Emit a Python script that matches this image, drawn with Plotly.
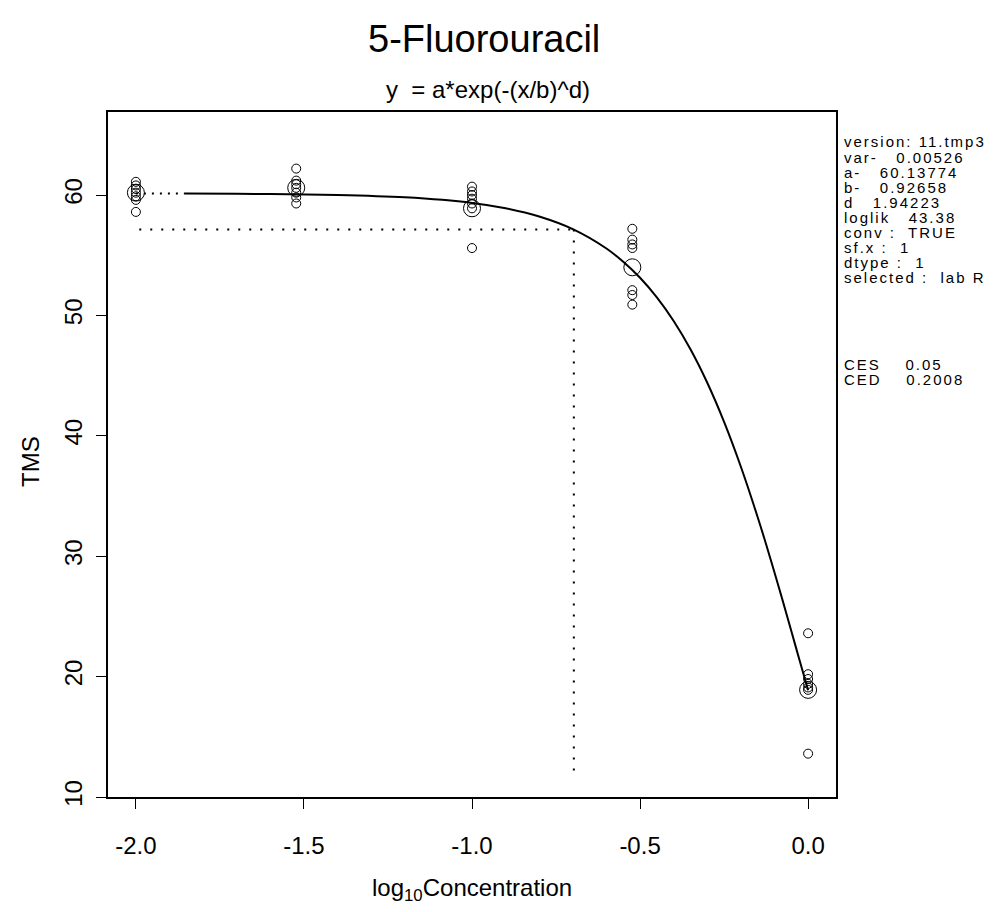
import plotly.graph_objects as go

# ---- data ----
log_conc = [-2.0, -1.523, -1.0, -0.523, 0.0]
tms_groups = [
    [61.1, 60.8, 60.5, 60.2, 59.9, 59.6, 58.6],
    [62.2, 61.2, 60.9, 60.6, 60.2, 59.8, 59.3],
    [60.7, 60.3, 60.0, 59.7, 59.3, 58.9, 55.6],
    [57.2, 56.3, 55.9, 55.6, 52.1, 51.7, 50.9],
    [23.6, 20.2, 19.8, 19.4, 19.1, 18.9, 13.6],
]
group_means = [60.2, 60.6, 58.9, 54.0, 18.9]

curve_x = [-1.854, -1.7, -1.6, -1.4, -1.2, -1.0, -0.9, -0.8, -0.7, -0.6, -0.55,
           -0.5, -0.45, -0.4, -0.35, -0.3, -0.25, -0.2, -0.15, -0.125, -0.1,
           -0.075, -0.05, -0.025, 0.0]
curve_y = [60.12, 60.10, 60.08, 60.01, 59.81, 59.35, 58.91, 58.22, 57.17, 55.56, 54.46,
           53.13, 51.50, 49.54, 47.19, 44.41, 41.16, 37.43, 33.24, 30.99, 28.65,
           26.25, 23.79, 21.32, 18.86]

lead_x = [-2.0, -1.854]
lead_y = [60.13, 60.12]

ces_level = 57.13
ced_log = -0.697
ced_line_bottom = 11.9
ces_line_start = -1.99

x_ticks = [-2.0, -1.5, -1.0, -0.5, 0.0]
x_ticktext = ["-2.0", "-1.5", "-1.0", "-0.5", "0.0"]
y_ticks = [10, 20, 30, 40, 50, 60]

info_lines = [
    "version: 11.tmp3",
    "var-   0.00526",
    "a-   60.13774",
    "b-   0.92658",
    "d   1.94223",
    "loglik   43.38",
    "conv :  TRUE",
    "sf.x :  1",
    "dtype :  1",
    "selected :  lab R",
]
ces_lines = ["CES    0.05", "CED    0.2008"]

# ---- layout geometry ----
W, H = 1005, 912
L, R, T, B = 108, 169, 112, 115
PW, PH = W - L - R, H - T - B
FONT = "Liberation Sans, Arial, sans-serif"


def px(x):
    return (x - L) / PW


def py(y):
    return (H - B - y) / PH


fig = go.Figure()

xs, ys = [], []
for xv, grp in zip(log_conc, tms_groups):
    for v in grp:
        xs.append(xv)
        ys.append(v)
fig.add_trace(go.Scatter(x=xs, y=ys, mode="markers",
                         marker=dict(symbol="circle-open", size=9, color="black",
                                     line=dict(width=1, color="black"))))
fig.add_trace(go.Scatter(x=log_conc, y=group_means, mode="markers",
                         marker=dict(symbol="circle-open", size=17, color="black",
                                     line=dict(width=1, color="black"))))
fig.add_trace(go.Scatter(x=curve_x, y=curve_y, mode="lines",
                         line=dict(color="black", width=2, shape="spline", smoothing=0.8)))
fig.add_trace(go.Scatter(x=lead_x, y=lead_y, mode="lines",
                         line=dict(color="black", width=2, dash="2px,6px")))
fig.add_trace(go.Scatter(x=[ces_line_start, ced_log], y=[ces_level, ces_level], mode="lines",
                         line=dict(color="black", width=2, dash="2px,9px")))
fig.add_trace(go.Scatter(x=[ced_log, ced_log], y=[ces_level, ced_line_bottom], mode="lines",
                         line=dict(color="black", width=2, dash="2px,9px")))

ann = []
ann.append(dict(text="5-Fluorouracil", x=px(484), y=py(39), xref="paper", yref="paper",
                showarrow=False, xanchor="center", yanchor="middle",
                font=dict(size=38, family=FONT, color="black")))
ann.append(dict(text="y  = a*exp(-(x/b)^d)", x=px(488), y=py(89), xref="paper", yref="paper",
                showarrow=False, xanchor="center", yanchor="middle",
                font=dict(size=24, family=FONT, color="black")))
ann.append(dict(text="log<sub>10</sub>Concentration", x=px(472), y=py(889), xref="paper", yref="paper",
                showarrow=False, xanchor="center", yanchor="middle",
                font=dict(size=24, family=FONT, color="black")))
ann.append(dict(text="TMS", x=px(30), y=py(462), xref="paper", yref="paper", textangle=-90,
                showarrow=False, xanchor="center", yanchor="middle",
                font=dict(size=24, family=FONT, color="black")))
SP = '<span style="letter-spacing:2px">{}</span>'
for i, s in enumerate(info_lines):
    ann.append(dict(text=SP.format(s), x=px(842), y=py(142 + 15.1 * i), xref="paper", yref="paper",
                    showarrow=False, xanchor="left", yanchor="middle",
                    font=dict(size=15, family=FONT, color="black")))
for i, s in enumerate(ces_lines):
    ann.append(dict(text=SP.format(s), x=px(842), y=py(364 + 15.1 * i), xref="paper", yref="paper",
                    showarrow=False, xanchor="left", yanchor="middle",
                    font=dict(size=15, family=FONT, color="black")))

axis_common = dict(showgrid=False, zeroline=False, showline=True, linewidth=2, linecolor="black",
                   mirror=True, ticks="outside", ticklen=10, tickwidth=1, tickcolor="black",
                   tickfont=dict(size=24, family=FONT, color="black"))

fig.update_layout(
    width=W, height=H, autosize=False,
    margin=dict(l=L, r=R, t=T, b=B, pad=0),
    paper_bgcolor="white", plot_bgcolor="white",
    showlegend=False,
    xaxis=dict(range=[-2.083, 0.083], tickvals=x_ticks, ticktext=x_ticktext,
               ticklabelstandoff=16, **axis_common),
    yaxis=dict(range=[10, 66.9], tickvals=y_ticks, tickangle=-90,
               ticklabelstandoff=4, **axis_common),
    annotations=ann,
)

fig.write_html("out.html")
